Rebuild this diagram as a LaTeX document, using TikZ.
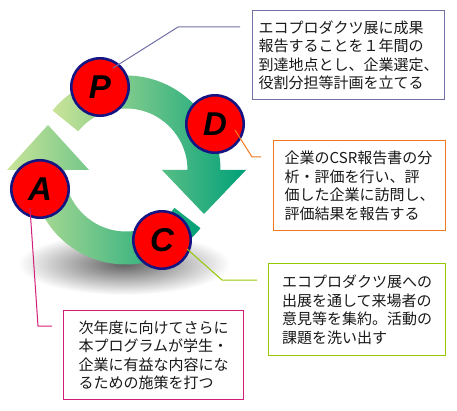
\documentclass[tikz,border=0pt]{standalone}
\usepackage{fontspec}
\setmainfont{Noto Sans CJK JP}
\newfontfamily\letterfont{Liberation Sans}
\usepackage{tikz}
\usetikzlibrary{calc}

\definecolor{ringlight}{RGB}{202,228,152}
\definecolor{ringdark}{RGB}{0,160,120}
\definecolor{phaseblue}{RGB}{20,20,130}
\definecolor{planline}{RGB}{112,112,165}
\definecolor{doline}{RGB}{240,120,30}
\definecolor{checkline}{RGB}{150,200,0}
\definecolor{actline}{RGB}{210,30,120}

\begin{document}
\begin{tikzpicture}[x=1pt, y=1pt,
    phase/.style={circle, draw=phaseblue, line width=2.6pt, fill=red, minimum size=57.4pt, inner sep=0pt, font=\letterfont\bfseries\itshape\fontsize{33}{33}\selectfont},
    note/.style={rectangle, line width=1.3pt, fill=white, anchor=north west, align=left, inner sep=0pt, text=black!90, font=\fontsize{15}{18.5}\selectfont},
    link/.style={line width=1pt},
    ring/.style={left color=ringlight, right color=ringdark}
]
\useasboundingbox (0,0) rectangle (457,-411);

% Shadow
\shade[inner color=black!62, outer color=white] (124,-264) ellipse (106 and 31);

% Cycle
\shade[ring] (126,-170) ++(141:94.5) arc[start angle=141, end angle=0, radius=94.5]
    -- (246,-170) -- (204,-214) -- (162,-170) -- (187.5,-170)
    arc[start angle=0, end angle=141, radius=61.5] -- cycle;
\shade[ring] (126,-170) ++(-38:94.5) arc[start angle=-38, end angle=-180, radius=94.5]
    -- (7,-170) -- (48,-125) -- (89,-170) -- (64.5,-170)
    arc[start angle=-180, end angle=-38, radius=61.5] -- cycle;

% Phases
\node[phase] (P) at (100,-87) {P};
\node[phase] (D) at (215,-124) {D};
\node[phase] (A) at (40,-189) {A};
\node[phase] (C) at (162,-240) {C};

% Notes
\node[note, draw=planline, minimum width=192pt, minimum height=89pt] (plan) at (252,-10)
    {エコプロダクツ展に成果\\報告することを１年間の\\到達地点とし、企業選定、\\役割分担等計画を立てる};
\node[note, draw=doline, minimum width=172pt, minimum height=90pt] (do) at (273,-140)
    {企業のCSR報告書の分\\析・評価を行い、評\\価した企業に訪問し、\\評価結果を報告する};
\node[note, draw=checkline, minimum width=177pt, minimum height=92pt] (check) at (268,-263)
    {エコプロダクツ展への\\出展を通して来場者の\\意見等を集約。活動の\\課題を洗い出す};
\node[note, draw=actline, minimum width=180pt, minimum height=89pt] (act) at (63,-310)
    {次年度に向けてさらに\\本プログラムが学生・\\企業に有益な内容にな\\るための施策を打つ};

% Links
\coordinate (pend) at (240,-27);
\coordinate (dend) at (261,-157);
\coordinate (cend) at (257,-280);
\coordinate (aend) at (52,-326);
\draw[link, planline] ($(P)+(13,19)$) -- (178,-27) -- (pend);
\draw[link, doline] ($(D)+(20,-6)$) -- (252,-157) -- (dend);
\draw[link, checkline] ($(C)+(25,-9)$) -- (222,-280) -- (cend);
\draw[link, actline] ($(A)+(-10,-19)$) -- (38,-326) -- (aend);

\end{tikzpicture}
\end{document}
